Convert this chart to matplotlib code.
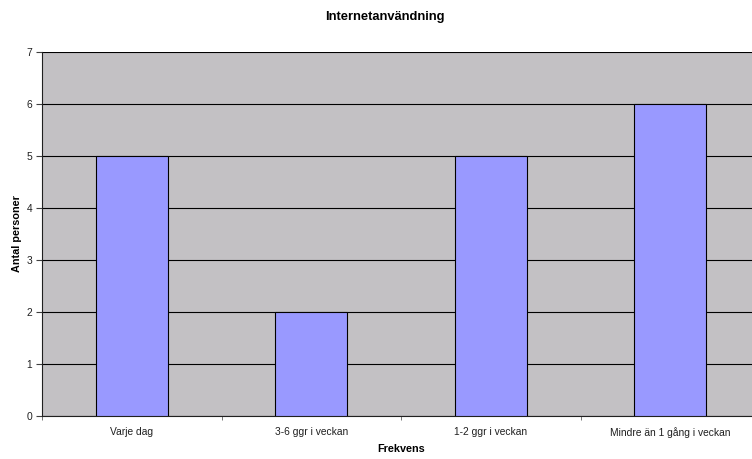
import matplotlib.pyplot as plt
import numpy as np

plt.rcParams['font.family'] = ['Liberation Sans', 'DejaVu Sans']

categories = ["Varje dag", "3-6 ggr i veckan", "1-2 ggr i veckan", "Mindre än 1 gång i veckan"]
antal = [5, 2, 5, 6]

fig = plt.figure(figsize=(7.52, 4.59), dpi=100)
ax = fig.add_axes([42 / 752, 43 / 459, 718 / 752, 364 / 459])
ax.set_facecolor("#C3C1C4")

x = np.arange(len(categories))
ax.bar(x, antal, width=0.4, color="#9999FF", edgecolor="black", linewidth=0.8, zorder=3)

ax.set_xlim(-0.5, len(categories) - 0.5)
ax.set_ylim(0, 7)
ax.set_yticks(range(8))
ax.yaxis.grid(True, color="black", linewidth=0.8, zorder=0)

ax.set_xticks(x)
ax.set_xticklabels(categories, fontsize=7.4, color="#202020")
ax.tick_params(axis="x", which="major", length=0, pad=8)
ax.set_xticks(np.arange(-0.5, len(categories)), minor=True)
ax.tick_params(axis="x", which="minor", length=3, color="#606060")
ax.tick_params(axis="y", labelsize=7.4, labelcolor="#202020", length=4, color="#404040", pad=3)

for side in ["top", "right"]:
    ax.spines[side].set_visible(False)
ax.spines["left"].set_color("#202020")
ax.spines["bottom"].set_color("#202020")

fig.text(385 / 752, 1 - 17 / 459, "Internetanvändning", ha="center", va="center",
         fontsize=9.3, fontweight="bold")
fig.text(401 / 752, 1 - 449 / 459, "Frekvens", ha="center", va="center",
         fontsize=7.8, fontweight="bold")
fig.text(17 / 752, 1 - 234 / 459, "Antal personer", ha="center", va="center",
         rotation=90, fontsize=7.8, fontweight="bold")

fig.savefig("out.png", dpi=100)
